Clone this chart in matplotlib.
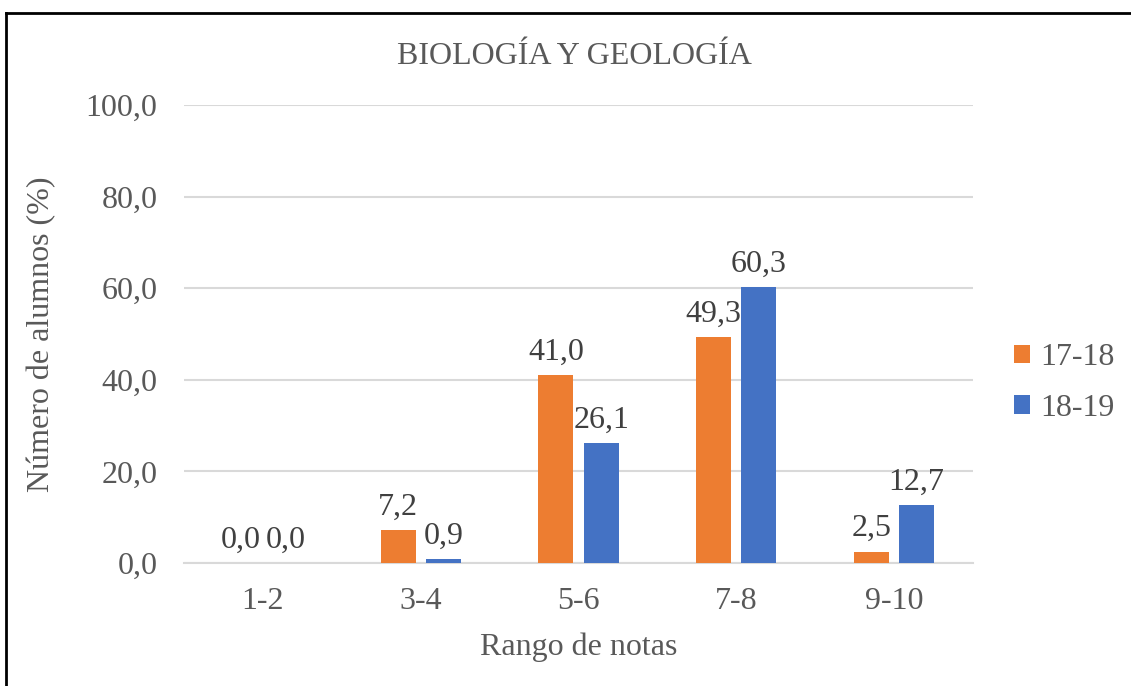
import matplotlib.pyplot as plt
import numpy as np
from matplotlib.lines import Line2D

categories = ["1-2", "3-4", "5-6", "7-8", "9-10"]
series_names = ["17-18", "18-19"]
values_1718 = [0.0, 7.2, 41.0, 49.3, 2.5]
values_1819 = [0.0, 0.9, 26.1, 60.3, 12.7]
y_ticks = [0, 20, 40, 60, 80, 100]

ORANGE = "#ED7D31"
BLUE = "#4472C4"
GREY_TEXT = "#595959"
LABEL_TEXT = "#404040"
FS = 23

plt.rcParams["font.family"] = ["Liberation Serif", "DejaVu Serif"]

fig = plt.figure(figsize=(11.31, 6.86), dpi=100)
ax = fig.add_axes([0.1627, 0.1793, 0.6976, 0.6676])

x = np.arange(len(categories))
width = 0.222
offset = 0.143

bars_a = ax.bar(x - offset, values_1718, width, color=ORANGE, label=series_names[0], zorder=3)
bars_b = ax.bar(x + offset, values_1819, width, color=BLUE, label=series_names[1], zorder=3)

for bars in (bars_a, bars_b):
    for b in bars:
        h = b.get_height()
        ax.annotate(f"{h:.1f}".replace(".", ","),
                    (b.get_x() + b.get_width() / 2, h),
                    xytext=(0, 6), textcoords="offset points",
                    ha="center", va="bottom", fontsize=FS, color=LABEL_TEXT)

ax.set_xlim(-0.5, len(categories) - 0.5)
ax.set_ylim(0, 100)
ax.set_yticks(y_ticks)
ax.set_yticklabels([f"{v:.1f}".replace(".", ",") for v in y_ticks])
ax.set_xticks(x)
ax.set_xticklabels(categories)
ax.tick_params(axis="both", length=0, labelsize=FS, labelcolor=GREY_TEXT)
ax.tick_params(axis="y", pad=19)
ax.tick_params(axis="x", pad=17)

ax.grid(axis="y", color="#D9D9D9", linewidth=1.5, zorder=0)
for side in ("top", "right", "left"):
    ax.spines[side].set_visible(False)
ax.spines["bottom"].set_color("#D9D9D9")
ax.spines["bottom"].set_linewidth(1.5)

ax.set_xlabel("Rango de notas", fontsize=FS, color=GREY_TEXT, labelpad=12)
ax.set_ylabel("Número de alumnos (%)", fontsize=FS, color=GREY_TEXT, labelpad=21)
fig.text(0.5075, 0.918, "BIOLOGÍA Y GEOLOGÍA", ha="center", va="center",
         fontsize=FS, color=GREY_TEXT)

ax.legend(loc="center left", bbox_to_anchor=(1.015, 0.393), frameon=False,
          fontsize=FS, labelcolor=GREY_TEXT, handlelength=0.5, handleheight=0.5,
          handletextpad=0.35, labelspacing=0.68)

# outer frame (top and left edges are visible)
fig.add_artist(Line2D([6 / 1131, 6 / 1131], [0, 1 - 13 / 686], color="black", linewidth=2))
fig.add_artist(Line2D([6 / 1131, 1], [1 - 13 / 686, 1 - 13 / 686], color="black", linewidth=2))

fig.savefig("out.png", dpi=100)
